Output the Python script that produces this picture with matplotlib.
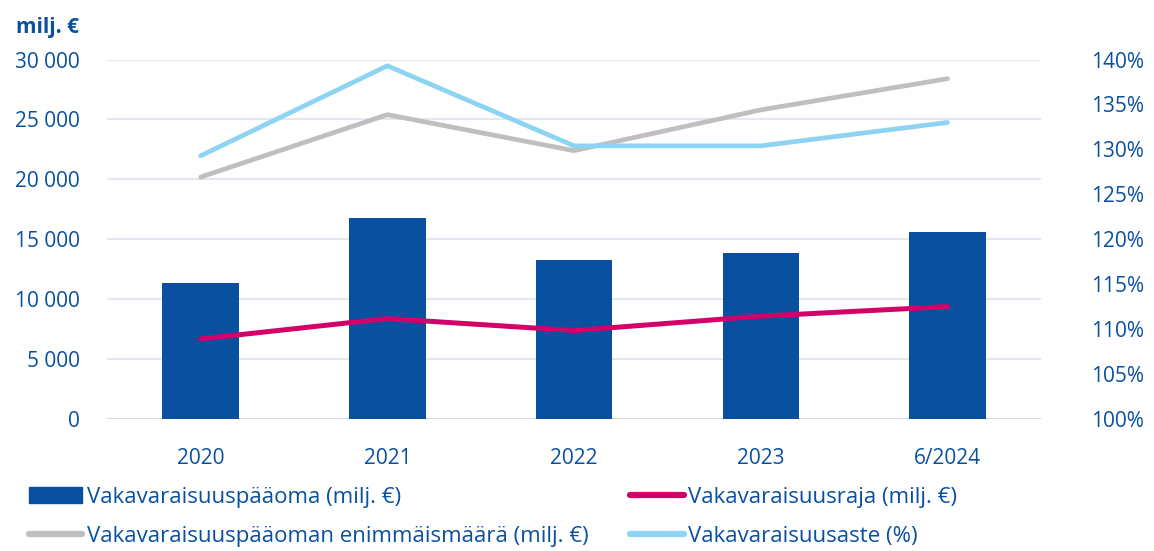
import matplotlib.pyplot as plt
import numpy as np
from matplotlib.lines import Line2D
from matplotlib.patches import Patch
from matplotlib.ticker import FuncFormatter

plt.rcParams['font.family'] = ['Open Sans', 'DejaVu Sans']

years = ["2020", "2021", "2022", "2023", "6/2024"]
paaoma = [11400, 16800, 13250, 13900, 15600]
raja = [6700, 8400, 7400, 8600, 9400]
enimmais = [20200, 25400, 22400, 25800, 28400]
aste = [129.3, 139.3, 130.4, 130.4, 133.0]

BLUE = "#0A50A1"
MAGENTA = "#D4006A"
GRAY = "#BFBFBF"
LIGHT = "#8DD4F2"
TXT = "#0A50A1"

fig = plt.figure(figsize=(11.54, 5.51), dpi=100)
ax = fig.add_axes([0.093, 0.239, 0.809, 0.653])
ax2 = ax.twinx()

x = np.arange(len(years))
ax.bar(x, paaoma, width=0.41, color=BLUE, zorder=2)
ax.plot(x, raja, color=MAGENTA, lw=3.6, solid_capstyle="round", zorder=3)
ax.plot(x, enimmais, color=GRAY, lw=3.4, solid_capstyle="round", zorder=3)
ax2.plot(x, aste, color=LIGHT, lw=3.4, solid_capstyle="round", zorder=3)

ax.set_xlim(-0.5, len(years) - 0.5)
ax.set_ylim(0, 30000)
ax.set_yticks(np.arange(0, 30001, 5000))
ax.yaxis.set_major_formatter(FuncFormatter(lambda v, p: f"{int(v):,}".replace(",", " ")))
ax2.set_ylim(100, 140)
ax2.set_yticks(np.arange(100, 141, 5))
ax2.yaxis.set_major_formatter(FuncFormatter(lambda v, p: f"{int(v)}%"))

ax.set_xticks(x)
ax.set_xticklabels(years)
ax.grid(axis="y", color="#E4E8EE", lw=1.5, zorder=0)
ax.set_axisbelow(True)

for a in (ax, ax2):
    for s in ("top", "left", "right", "bottom"):
        a.spines[s].set_visible(False)
    a.tick_params(length=0, colors=TXT, labelsize=15)
ax.axhline(0, color="#D9D9D9", lw=1.5, zorder=1)
ax.tick_params(axis="y", pad=20)
ax.tick_params(axis="x", pad=21)
ax2.tick_params(axis="y", pad=36)

fig.text(0.014, 0.94, "milj. €", color=TXT, fontsize=15, fontweight="bold")

handles = [
    Patch(color=BLUE),
    Line2D([], [], color=GRAY, lw=4.5, solid_capstyle="round"),
    Line2D([], [], color=MAGENTA, lw=4.5, solid_capstyle="round"),
    Line2D([], [], color=LIGHT, lw=4.5, solid_capstyle="round"),
]
labels = [
    "Vakavaraisuuspääoma (milj. €)",
    "Vakavaraisuuspääoman enimmäismäärä (milj. €)",
    "Vakavaraisuusraja (milj. €)",
    "Vakavaraisuusaste (%)",
]
leg = fig.legend(handles, labels, ncol=2, loc="upper left", bbox_to_anchor=(0.025, 0.117),
                 frameon=False, fontsize=16, handlelength=2.4, handleheight=0.75,
                 handletextpad=0.2, columnspacing=1.9, labelspacing=0.85,
                 borderaxespad=0, borderpad=0)
for t in leg.get_texts():
    t.set_color(TXT)

fig.savefig("out.png", dpi=100)
